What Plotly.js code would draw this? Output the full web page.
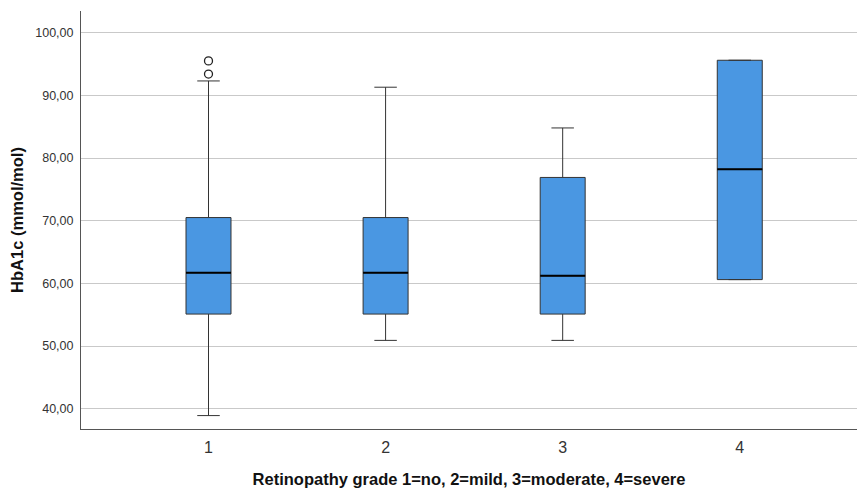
<!DOCTYPE html>
<html>
<head>
<meta charset="utf-8">
<script src="https://cdn.plot.ly/plotly-3.0.1.min.js"></script>
<style>html,body{margin:0;padding:0;background:#fff;}#chart{width:858px;height:488px;}</style>
</head>
<body>
<div id="chart"></div>
<script>
// Retinopathy grade categories
var grades = [1, 2, 3, 4];
var lowerWhisker = [38.9, 50.9, 50.9, 60.6];
var q1Values = [55.1, 55.1, 55.1, 60.6];
var medianValues = [61.7, 61.7, 61.2, 78.2];
var q3Values = [70.5, 70.5, 76.9, 95.6];
var upperWhisker = [92.3, 91.3, 84.8, 95.6];
// outliers (grade, value)
var outlierGrade = [1, 1];
var outlierValue = [93.4, 95.5];
var yTickVals = [40, 50, 60, 70, 80, 90, 100];

var boxWidth = 0.254;
var traces = [{
  type: 'box',
  x: grades,
  q1: q1Values,
  median: medianValues,
  q3: q3Values,
  lowerfence: lowerWhisker,
  upperfence: upperWhisker,
  width: boxWidth,
  whiskerwidth: 0.5,
  fillcolor: '#4a97e2',
  line: {color: '#333333', width: 1},
  boxpoints: false,
  hoverinfo: 'skip',
  showlegend: false
}];
// thicker median lines drawn from the median array
grades.forEach(function (g, i) {
  traces.push({
    type: 'scatter', mode: 'lines',
    x: [g - boxWidth / 2, g + boxWidth / 2],
    y: [medianValues[i], medianValues[i]],
    line: {color: '#000000', width: 2},
    hoverinfo: 'skip', showlegend: false
  });
});
traces.push({
  type: 'scatter', mode: 'markers',
  x: outlierGrade, y: outlierValue,
  marker: {symbol: 'circle-open', size: 8, color: '#222222', line: {width: 1.3}},
  hoverinfo: 'skip', showlegend: false
});

var layout = {
  width: 858, height: 488,
  margin: {l: 81, r: 1, t: 11, b: 59},
  paper_bgcolor: '#ffffff', plot_bgcolor: '#ffffff',
  separators: ',.',
  font: {family: '"Liberation Sans", Arial, sans-serif', color: '#222222'},
  xaxis: {
    type: 'linear',
    range: [0.28, 4.662],
    tickvals: grades,
    ticktext: grades.map(String),
    showgrid: false, zeroline: false,
    showline: true, linecolor: '#555555', linewidth: 1,
    ticks: '', ticklabelstandoff: 4,
    tickfont: {size: 16, color: '#333333'},
    title: {text: 'Retinopathy grade 1=no, 2=mild, 3=moderate, 4=severe',
            font: {size: 16.5, color: '#111111', weight: 'bold'}, standoff: 22}
  },
  yaxis: {
    range: [36.76, 103.46],
    tickvals: yTickVals,
    tickformat: '.2f',
    showgrid: true, gridcolor: '#c9c9c9', gridwidth: 1,
    zeroline: false,
    showline: true, linecolor: '#555555', linewidth: 1,
    ticks: '', ticklabelstandoff: 4,
    tickfont: {size: 12.5, color: '#333333'},
    title: {text: 'HbA1c (mmol/mol)', font: {size: 16.5, color: '#111111', weight: 'bold'}, standoff: 7}
  }
};
Plotly.newPlot('chart', traces, layout, {displayModeBar: false, staticPlot: true});
</script>
</body>
</html>
